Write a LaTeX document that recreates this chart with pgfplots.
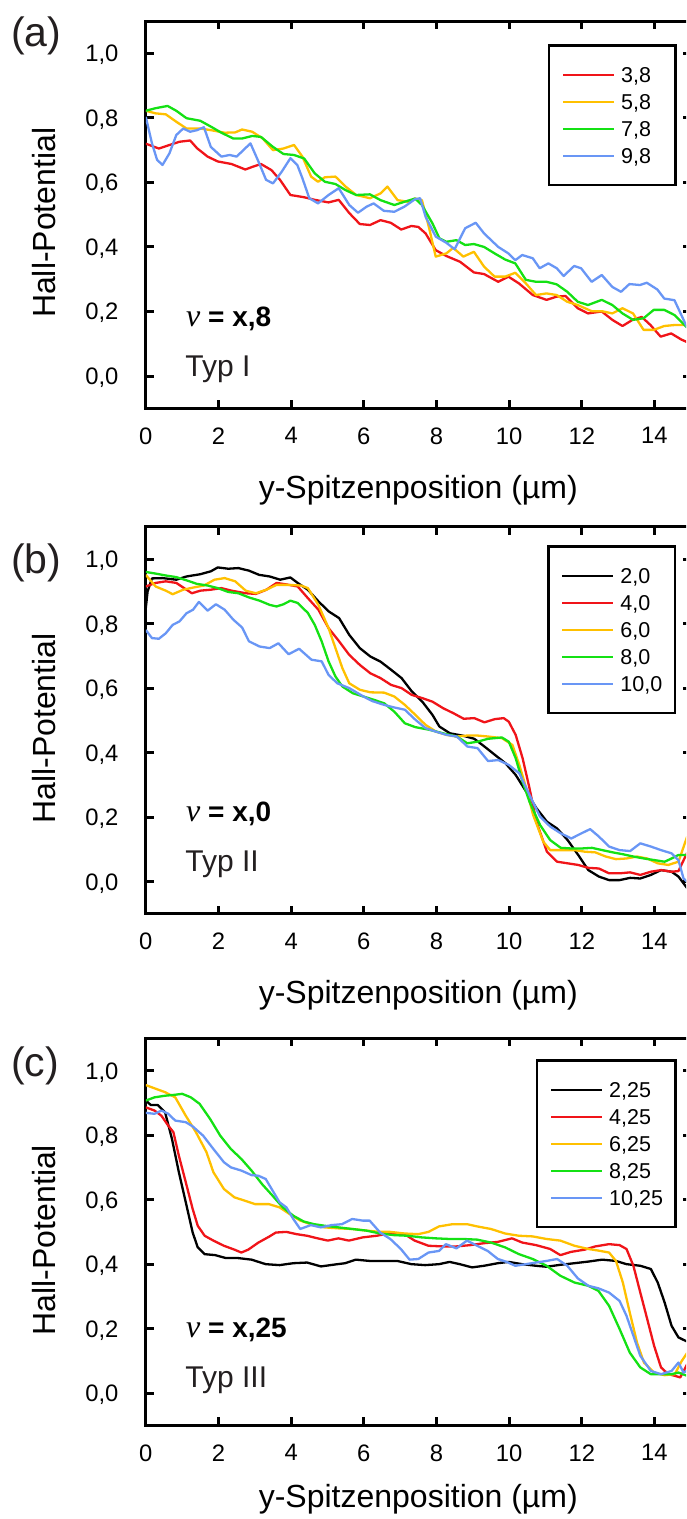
\documentclass[border=0pt]{standalone}
\usepackage{pgfplots}
\pgfplotsset{compat=1.18}
\usepackage{fontspec}
\setmainfont{Liberation Sans}
\newfontfamily\serifnu{Liberation Serif}
\definecolor{cred}{RGB}{240,20,25}
\definecolor{cyel}{RGB}{255,192,0}
\definecolor{cgrn}{RGB}{20,225,20}
\definecolor{cblu}{RGB}{105,150,245}
\definecolor{ctxt}{RGB}{35,31,32}
\pgfplotsset{
  hallaxis/.style={
    scale only axis, width=272.5pt, height=193.6pt, anchor=south west,
    clip mode=individual,
    xmin=0, xmax=15, ymin=-0.1, ymax=1.1,
    xtick={0,2,4,6,8,10,12,14}, xticklabels={0,2,4,6,8,10,12,14},
    ytick={0,0.2,0.4,0.6,0.8,1.0}, yticklabels={{0,0},{0,2},{0,4},{0,6},{0,8},{1,0}},
    tick align=inside, major tick length=4pt,
    axis line style={line width=1.5pt},
    every tick/.style={black, line width=1.5pt},
    tick label style={font=\fontsize{11.9}{12}\selectfont, inner sep=0pt},
    xticklabel style={anchor=north},
    yticklabel style={anchor=base east, yshift=-4.25pt},
    xticklabel shift=9.35pt, yticklabel shift=13.5pt,
    xlabel={y-Spitzenposition (µm)},
    xlabel style={anchor=base, inner sep=0pt, font=\fontsize{16}{16}\selectfont},
    ylabel={Hall-Potential},
    ylabel style={at={(axis description cs:-0.1666,0.479)}, anchor=base, inner sep=0pt, font=\fontsize{16}{16}\selectfont},
    every axis plot/.append style={line width=1.15pt, line join=round},
    legend image code/.code={\draw[##1, line width=1.15pt] (0pt,0pt) -- (25.5pt,0pt);},
    legend cell align=left,
    legend style={anchor=north east, draw=black, line width=1.25pt, fill=white,
      inner xsep=6.35pt, inner ysep=7.9pt, row sep=0pt, column sep=3pt, outer sep=0pt,
      font=\fontsize{10.75}{12}\selectfont,
      nodes={inner sep=0pt, text height=10.6pt, text depth=2.9pt}},
  }
}
\newcommand{\nulab}[1]{{\serifnu\itshape\fontsize{16}{16}\selectfont ν}{\fontsize{14}{14}\selectfont\bfseries\ = x,#1}}
\begin{document}
\begin{tikzpicture}
\path[use as bounding box] (0,0) rectangle (343pt,759.5pt);
\clip (0,0) rectangle (343pt,759.5pt);
% ---------------- (a)
\begin{axis}[hallaxis, at={(72.9pt,555.35pt)},
  xlabel style={at={(axis description cs:0.5,-0.234)}},
  legend style={at={(rel axis cs:0.9723,0.9373)}}]
\addplot[cred] coordinates {(0,0.72)(0.36,0.705)(0.65,0.716)(0.93,0.726)(1.22,0.73)(1.41,0.706)(1.70,0.68)(1.98,0.665)(2.36,0.657)(2.74,0.64)(2.93,0.648)(3.17,0.657)(3.46,0.638)(3.7,0.607)(3.98,0.561)(4.36,0.554)(4.65,0.546)(5.03,0.538)(5.31,0.546)(5.6,0.505)(5.89,0.471)(6.17,0.468)(6.46,0.483)(6.74,0.475)(7.03,0.454)(7.31,0.465)(7.5,0.462)(7.70,0.442)(7.98,0.39)(8.27,0.372)(8.65,0.354)(9.03,0.321)(9.31,0.316)(9.7,0.292)(9.98,0.308)(10.27,0.287)(10.65,0.251)(11.03,0.236)(11.31,0.246)(11.55,0.248)(11.89,0.21)(12.17,0.194)(12.55,0.2)(12.84,0.174)(13.12,0.155)(13.41,0.175)(13.65,0.183)(13.89,0.158)(14.17,0.122)(14.46,0.132)(14.74,0.113)(14.9,0.105)};
\addlegendentry{\makebox[20.9pt][l]{3,8}}
\addplot[cyel] coordinates {(0,0.822)(0.27,0.814)(0.55,0.811)(0.84,0.788)(1.12,0.767)(1.5,0.767)(1.79,0.762)(2.17,0.754)(2.46,0.755)(2.65,0.764)(2.93,0.757)(3.22,0.736)(3.5,0.70)(3.79,0.705)(4.08,0.716)(4.31,0.68)(4.55,0.618)(4.74,0.602)(4.93,0.616)(5.22,0.618)(5.5,0.587)(5.79,0.561)(6.17,0.551)(6.46,0.566)(6.65,0.587)(6.93,0.545)(7.22,0.54)(7.41,0.55)(7.6,0.545)(7.79,0.462)(7.98,0.37)(8.27,0.38)(8.46,0.397)(8.74,0.37)(9.03,0.385)(9.31,0.339)(9.6,0.308)(9.89,0.308)(10.17,0.32)(10.46,0.287)(10.74,0.251)(11.03,0.256)(11.31,0.251)(11.6,0.23)(11.89,0.22)(12.27,0.201)(12.55,0.201)(12.84,0.194)(13.12,0.21)(13.41,0.194)(13.7,0.143)(13.98,0.143)(14.27,0.155)(14.55,0.158)(14.9,0.158)};
\addlegendentry{5,8}
\addplot[cgrn] coordinates {(0,0.822)(0.27,0.83)(0.6,0.837)(0.84,0.822)(1.12,0.799)(1.5,0.791)(1.79,0.773)(2.08,0.754)(2.41,0.736)(2.65,0.736)(2.93,0.744)(3.17,0.741)(3.5,0.71)(3.79,0.688)(4.08,0.685)(4.36,0.674)(4.65,0.628)(4.93,0.602)(5.22,0.595)(5.5,0.576)(5.79,0.561)(6.17,0.563)(6.46,0.545)(6.84,0.53)(7.12,0.54)(7.41,0.55)(7.6,0.53)(7.89,0.473)(8.08,0.427)(8.27,0.416)(8.55,0.421)(8.79,0.406)(9.03,0.409)(9.31,0.40)(9.6,0.38)(9.89,0.361)(10.17,0.349)(10.46,0.298)(10.74,0.292)(11.03,0.292)(11.31,0.284)(11.6,0.261)(11.89,0.23)(12.17,0.22)(12.55,0.236)(12.84,0.22)(13.12,0.194)(13.41,0.174)(13.7,0.179)(13.98,0.205)(14.27,0.205)(14.55,0.189)(14.9,0.15)};
\addlegendentry{7,8}
\addplot[cblu] coordinates {(0,0.803)(0.17,0.721)(0.31,0.67)(0.46,0.654)(0.65,0.69)(0.84,0.747)(1.03,0.767)(1.22,0.757)(1.41,0.762)(1.6,0.771)(1.79,0.71)(2.08,0.68)(2.31,0.685)(2.5,0.68)(2.74,0.706)(2.88,0.721)(3.08,0.67)(3.31,0.608)(3.5,0.597)(3.74,0.633)(3.98,0.675)(4.17,0.654)(4.31,0.613)(4.5,0.551)(4.74,0.535)(5.03,0.561)(5.31,0.582)(5.6,0.53)(5.84,0.506)(6.08,0.525)(6.27,0.535)(6.55,0.512)(6.84,0.509)(7.12,0.525)(7.41,0.548)(7.55,0.551)(7.7,0.494)(7.98,0.432)(8.27,0.413)(8.5,0.393)(8.79,0.458)(9.08,0.475)(9.31,0.442)(9.7,0.40)(9.98,0.38)(10.17,0.359)(10.36,0.375)(10.65,0.365)(10.84,0.334)(11.08,0.349)(11.31,0.334)(11.5,0.31)(11.79,0.341)(11.98,0.334)(12.27,0.292)(12.55,0.313)(12.84,0.276)(13.08,0.261)(13.31,0.285)(13.6,0.282)(13.79,0.289)(14.08,0.268)(14.27,0.24)(14.55,0.235)(14.9,0.15)};
\addlegendentry{9,8}
\node[anchor=west, inner sep=0pt, text=ctxt, font=\fontsize{20.5}{20.5}\selectfont] at (axis description cs:-0.248,0.962) {(a)};
\node[anchor=base west, inner sep=0pt] at (axis cs:1.1,0.153) {\nulab{8}};
\node[anchor=base west, inner sep=0pt, text=ctxt, font=\fontsize{15}{15}\selectfont] at (axis cs:1.08,0.0) {Typ I};
\end{axis}
% ---------------- (b)
\begin{axis}[hallaxis, at={(72.9pt,302.5pt)},
  xlabel style={at={(axis description cs:0.5,-0.23)}},
  legend style={at={(rel axis cs:0.971,0.9494)}}]
\addplot[black] coordinates {(0,0.848)(0.05,0.9)(0.17,0.94)(0.46,0.941)(0.84,0.936)(1.12,0.946)(1.5,0.953)(1.79,0.962)(1.98,0.974)(2.27,0.97)(2.55,0.972)(2.84,0.964)(3.12,0.951)(3.41,0.946)(3.7,0.936)(3.98,0.943)(4.18,0.926)(4.46,0.905)(4.75,0.869)(5.03,0.838)(5.32,0.817)(5.6,0.765)(5.89,0.724)(6.18,0.698)(6.46,0.682)(6.75,0.657)(7.04,0.631)(7.32,0.59)(7.61,0.558)(7.89,0.517)(8.08,0.481)(8.37,0.46)(8.75,0.452)(9.04,0.443)(9.32,0.419)(9.61,0.393)(9.9,0.367)(10.18,0.331)(10.47,0.279)(10.75,0.228)(11.04,0.186)(11.32,0.165)(11.61,0.129)(11.9,0.083)(12.18,0.036)(12.47,0.016)(12.75,0.005)(13.04,0.005)(13.33,0.012)(13.61,0.01)(13.9,0.021)(14.18,0.036)(14.47,0.031)(14.66,0.016)(14.9,-0.02)};
\addlegendentry{2,0}
\addplot[cred] coordinates {(0,0.915)(0.27,0.926)(0.55,0.931)(0.84,0.926)(1.12,0.905)(1.27,0.894)(1.5,0.902)(1.79,0.905)(2.08,0.91)(2.36,0.902)(2.75,0.894)(3.03,0.892)(3.32,0.905)(3.6,0.926)(3.89,0.921)(4.18,0.915)(4.46,0.879)(4.75,0.843)(5.03,0.786)(5.32,0.745)(5.6,0.703)(5.89,0.672)(6.18,0.646)(6.46,0.631)(6.75,0.61)(7.04,0.6)(7.32,0.579)(7.61,0.569)(7.89,0.558)(8.18,0.538)(8.47,0.522)(8.75,0.505)(9.04,0.507)(9.32,0.494)(9.61,0.504)(9.85,0.507)(9.99,0.496)(10.18,0.455)(10.37,0.383)(10.56,0.29)(10.75,0.186)(11.04,0.093)(11.32,0.062)(11.61,0.057)(11.9,0.052)(12.18,0.043)(12.47,0.041)(12.75,0.026)(13.04,0.026)(13.33,0.029)(13.61,0.021)(13.9,0.031)(14.18,0.036)(14.47,0.031)(14.66,0.033)(14.9,0.09)};
\addlegendentry{4,0}
\addplot[cyel] coordinates {(0,0.951)(0.27,0.915)(0.55,0.902)(0.74,0.891)(1.03,0.905)(1.32,0.912)(1.6,0.918)(1.89,0.936)(2.17,0.941)(2.46,0.931)(2.75,0.902)(3.03,0.894)(3.32,0.905)(3.6,0.92)(3.89,0.92)(4.27,0.918)(4.46,0.91)(4.75,0.858)(5.03,0.786)(5.22,0.724)(5.41,0.662)(5.6,0.615)(5.89,0.595)(6.18,0.587)(6.56,0.586)(6.84,0.574)(7.13,0.548)(7.42,0.517)(7.7,0.486)(7.99,0.465)(8.28,0.455)(8.56,0.45)(8.85,0.453)(9.13,0.453)(9.42,0.45)(9.8,0.445)(10.09,0.424)(10.28,0.362)(10.47,0.29)(10.66,0.207)(10.94,0.124)(11.13,0.098)(11.42,0.098)(11.8,0.098)(12.09,0.093)(12.37,0.091)(12.66,0.078)(12.94,0.07)(13.23,0.072)(13.52,0.078)(13.8,0.072)(14.09,0.057)(14.38,0.052)(14.66,0.062)(14.9,0.14)};
\addlegendentry{6,0}
\addplot[cgrn] coordinates {(0,0.96)(0.27,0.955)(0.55,0.949)(0.84,0.944)(1.12,0.934)(1.41,0.923)(1.7,0.918)(1.98,0.91)(2.27,0.898)(2.55,0.894)(2.84,0.881)(3.13,0.871)(3.41,0.858)(3.6,0.853)(3.79,0.86)(3.98,0.871)(4.18,0.864)(4.46,0.833)(4.65,0.796)(4.84,0.745)(5.03,0.683)(5.22,0.636)(5.41,0.605)(5.7,0.584)(5.99,0.574)(6.27,0.564)(6.56,0.553)(6.84,0.527)(7.13,0.491)(7.42,0.479)(7.8,0.471)(8.18,0.46)(8.56,0.45)(8.85,0.429)(9.13,0.434)(9.42,0.443)(9.8,0.447)(9.99,0.434)(10.18,0.383)(10.37,0.31)(10.56,0.248)(10.85,0.176)(11.13,0.129)(11.42,0.105)(11.71,0.103)(11.99,0.103)(12.28,0.105)(12.56,0.098)(12.85,0.091)(13.14,0.085)(13.42,0.078)(13.71,0.072)(14.0,0.067)(14.28,0.062)(14.47,0.072)(14.66,0.083)(14.9,0.083)};
\addlegendentry{8,0}
\addplot[cblu] coordinates {(0,0.78)(0.17,0.755)(0.36,0.753)(0.55,0.77)(0.74,0.796)(0.93,0.807)(1.12,0.832)(1.3,0.843)(1.46,0.867)(1.7,0.84)(1.93,0.86)(2.17,0.843)(2.41,0.812)(2.65,0.788)(2.84,0.745)(3.13,0.729)(3.41,0.724)(3.65,0.739)(3.93,0.705)(4.22,0.722)(4.56,0.688)(4.84,0.683)(5.03,0.641)(5.27,0.615)(5.6,0.6)(5.99,0.574)(6.23,0.56)(6.56,0.548)(6.84,0.54)(7.13,0.533)(7.42,0.502)(7.7,0.476)(7.99,0.465)(8.28,0.455)(8.56,0.45)(8.85,0.419)(9.13,0.414)(9.42,0.374)(9.7,0.377)(9.99,0.362)(10.28,0.336)(10.56,0.269)(10.85,0.202)(11.13,0.171)(11.42,0.15)(11.71,0.134)(11.99,0.15)(12.23,0.163)(12.47,0.14)(12.75,0.109)(13.04,0.098)(13.33,0.095)(13.61,0.119)(13.9,0.109)(14.18,0.098)(14.47,0.088)(14.66,0.067)(14.8,0.01)(14.9,0.0)};
\addlegendentry{10,0}
\node[anchor=west, inner sep=0pt, text=ctxt, font=\fontsize{20.5}{20.5}\selectfont] at (axis description cs:-0.248,0.908) {(b)};
\node[anchor=base west, inner sep=0pt] at (axis cs:1.1,0.187) {\nulab{0}};
\node[anchor=base west, inner sep=0pt, text=ctxt, font=\fontsize{15}{15}\selectfont] at (axis cs:1.08,0.032) {Typ II};
\end{axis}
% ---------------- (c)
\begin{axis}[hallaxis, at={(72.9pt,46.75pt)},
  xlabel style={at={(axis description cs:0.5,-0.212)}},
  legend style={at={(rel axis cs:0.9723,0.943)}}]
\addplot[black] coordinates {(0,0.907)(0.14,0.893)(0.33,0.893)(0.53,0.871)(0.72,0.788)(0.91,0.685)(1.1,0.592)(1.29,0.498)(1.43,0.452)(1.62,0.431)(1.91,0.428)(2.2,0.419)(2.53,0.419)(2.91,0.414)(3.3,0.40)(3.68,0.397)(4.06,0.403)(4.44,0.405)(4.82,0.393)(5.21,0.399)(5.49,0.403)(5.78,0.414)(6.16,0.41)(6.54,0.41)(6.92,0.41)(7.31,0.40)(7.69,0.397)(8.07,0.40)(8.36,0.407)(8.64,0.40)(8.98,0.39)(9.31,0.395)(9.69,0.403)(9.98,0.407)(10.36,0.40)(10.74,0.395)(11.03,0.392)(11.41,0.398)(11.8,0.403)(12.18,0.408)(12.56,0.414)(12.94,0.41)(13.23,0.40)(13.61,0.395)(13.9,0.385)(14.09,0.343)(14.28,0.281)(14.47,0.209)(14.66,0.173)(14.9,0.16)};
\addlegendentry{2,25}
\addplot[cred] coordinates {(0,0.886)(0.24,0.876)(0.43,0.86)(0.62,0.829)(0.76,0.809)(0.91,0.736)(1.1,0.654)(1.29,0.571)(1.43,0.519)(1.62,0.488)(1.86,0.473)(2.15,0.457)(2.44,0.445)(2.63,0.436)(2.82,0.445)(3.1,0.467)(3.39,0.485)(3.58,0.498)(3.87,0.5)(4.15,0.493)(4.44,0.488)(4.73,0.48)(5.01,0.473)(5.3,0.48)(5.59,0.473)(5.97,0.483)(6.35,0.488)(6.73,0.496)(7.12,0.493)(7.4,0.473)(7.78,0.457)(8.17,0.455)(8.55,0.455)(8.93,0.459)(9.31,0.465)(9.69,0.469)(10.08,0.48)(10.36,0.467)(10.74,0.459)(11.13,0.447)(11.41,0.428)(11.7,0.438)(12.08,0.445)(12.37,0.455)(12.75,0.462)(13.04,0.459)(13.23,0.447)(13.42,0.395)(13.61,0.312)(13.8,0.23)(13.99,0.147)(14.18,0.08)(14.38,0.059)(14.56,0.054)(14.71,0.049)(14.9,0.09)};
\addlegendentry{4,25}
\addplot[cyel] coordinates {(0,0.955)(0.24,0.945)(0.53,0.933)(0.81,0.917)(1.1,0.86)(1.38,0.809)(1.67,0.747)(1.86,0.685)(2.15,0.633)(2.44,0.607)(2.72,0.597)(3.01,0.586)(3.39,0.586)(3.68,0.576)(3.96,0.555)(4.25,0.535)(4.54,0.524)(4.92,0.514)(5.3,0.511)(5.68,0.509)(6.07,0.504)(6.45,0.5)(6.73,0.5)(7.12,0.495)(7.5,0.493)(7.78,0.5)(8.07,0.517)(8.45,0.524)(8.84,0.524)(9.12,0.517)(9.5,0.509)(9.89,0.495)(10.27,0.488)(10.65,0.486)(11.03,0.478)(11.41,0.473)(11.8,0.457)(12.18,0.447)(12.46,0.442)(12.75,0.436)(12.94,0.41)(13.13,0.343)(13.32,0.25)(13.52,0.157)(13.71,0.095)(13.99,0.064)(14.28,0.056)(14.56,0.059)(14.75,0.1)(14.9,0.125)};
\addlegendentry{6,25}
\addplot[cgrn] coordinates {(0,0.907)(0.24,0.917)(0.53,0.922)(0.81,0.925)(1.0,0.928)(1.24,0.917)(1.48,0.897)(1.77,0.85)(2.05,0.798)(2.34,0.757)(2.63,0.726)(2.91,0.69)(3.2,0.648)(3.49,0.612)(3.77,0.576)(4.06,0.55)(4.35,0.532)(4.63,0.524)(4.92,0.519)(5.3,0.514)(5.68,0.509)(6.07,0.504)(6.45,0.495)(6.83,0.49)(7.21,0.488)(7.59,0.483)(7.98,0.48)(8.36,0.478)(8.74,0.478)(9.12,0.476)(9.5,0.467)(9.89,0.452)(10.27,0.431)(10.65,0.416)(11.03,0.395)(11.41,0.364)(11.8,0.343)(12.18,0.333)(12.46,0.317)(12.75,0.271)(13.04,0.199)(13.32,0.126)(13.61,0.08)(13.9,0.059)(14.18,0.059)(14.47,0.059)(14.66,0.064)(14.9,0.054)};
\addlegendentry{8,25}
\addplot[cblu] coordinates {(0,0.869)(0.24,0.866)(0.43,0.876)(0.62,0.866)(0.81,0.845)(1.1,0.84)(1.29,0.827)(1.58,0.798)(1.86,0.757)(2.15,0.716)(2.34,0.7)(2.63,0.69)(2.91,0.676)(3.1,0.674)(3.3,0.664)(3.49,0.628)(3.68,0.592)(3.87,0.576)(4.06,0.54)(4.25,0.509)(4.54,0.521)(4.82,0.514)(5.11,0.521)(5.4,0.524)(5.68,0.54)(5.97,0.535)(6.16,0.535)(6.45,0.498)(6.73,0.478)(7.02,0.447)(7.26,0.414)(7.5,0.416)(7.78,0.436)(8.07,0.441)(8.26,0.462)(8.55,0.449)(8.84,0.473)(9.12,0.457)(9.41,0.441)(9.69,0.416)(9.93,0.407)(10.17,0.395)(10.46,0.40)(10.74,0.405)(11.03,0.41)(11.32,0.416)(11.6,0.395)(11.89,0.356)(12.18,0.333)(12.46,0.325)(12.75,0.312)(13.04,0.286)(13.23,0.24)(13.42,0.178)(13.61,0.116)(13.9,0.069)(14.18,0.059)(14.47,0.069)(14.66,0.095)(14.8,0.064)(14.9,0.07)};
\addlegendentry{10,25}
\node[anchor=west, inner sep=0pt, text=ctxt, font=\fontsize{20.5}{20.5}\selectfont] at (axis description cs:-0.248,0.929) {(c)};
\node[anchor=base west, inner sep=0pt] at (axis cs:1.1,0.173) {\nulab{25}};
\node[anchor=base west, inner sep=0pt, text=ctxt, font=\fontsize{15}{15}\selectfont] at (axis cs:1.08,0.018) {Typ III};
\end{axis}
\end{tikzpicture}
\end{document}
